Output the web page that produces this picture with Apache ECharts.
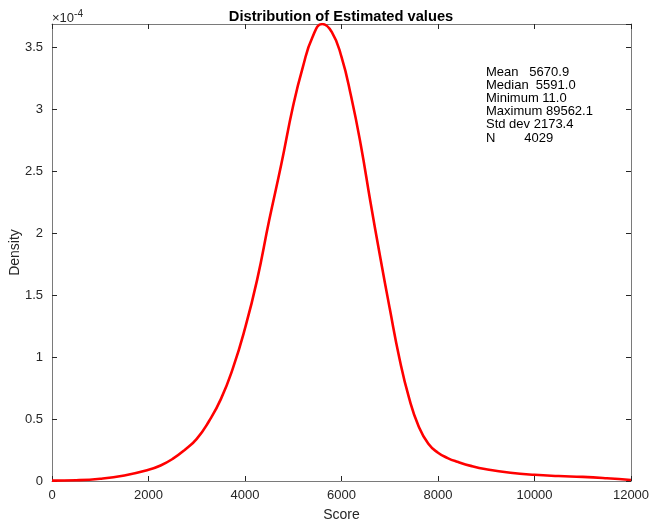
<!DOCTYPE html>
<html>
<head>
<meta charset="utf-8">
<script src="https://cdn.jsdelivr.net/npm/echarts@6/dist/echarts.min.js"></script>
<style>
  html, body { margin: 0; padding: 0; background: #fff; }
  #chart { width: 651px; height: 522px; }
</style>
</head>
<body>
<div id="chart"></div>
<script>
// Kernel density estimate of the scores (density given in units of 1e-4)
const score = [0, 500, 1000, 1500, 2000, 2250, 2500, 2750, 3000, 3250, 3500, 3750, 4000, 4250, 4500, 4750,
  5000, 5200, 5400, 5600, 5800, 6000, 6200, 6400, 6600, 6800, 7000, 7200, 7400, 7600, 7800,
  8000, 8200, 8400, 8700, 9000, 9500, 10000, 10500, 11000, 11500, 12000];
const density = [0.003, 0.006, 0.018, 0.045, 0.09, 0.125, 0.178, 0.25, 0.34, 0.48, 0.66, 0.91, 1.23, 1.62, 2.10, 2.55,
  3.03, 3.34, 3.58, 3.685, 3.62, 3.42, 3.10, 2.71, 2.25, 1.81, 1.39, 0.99, 0.67, 0.44, 0.30,
  0.228, 0.185, 0.155, 0.12, 0.095, 0.067, 0.05, 0.04, 0.033, 0.022, 0.008];
const densityScaleLabel = '-4';

// Summary statistics shown inside the plot
const statNames = ['Mean', 'Median', 'Minimum', 'Maximum', 'Std dev', 'N'];
const statValues = ['5670.9', '5591.0', '11.0', '89562.1', '2173.4', '4029'];
const statGaps = ['   ', '  ', ' ', ' ', ' ', '        '];

const xMin = 0, xMax = 12000, xStep = 2000;
const yMin = 0, yMax = 3.685, yStep = 0.5;

const FONT = '"Liberation Sans", Arial, Helvetica, sans-serif';
const axisGrey = '#7a7a7a';
const textDark = '#262626';

const chart = echarts.init(document.getElementById('chart'), null, { renderer: 'canvas' });

const statText = statNames.map((n, i) => n + statGaps[i] + statValues[i]).join('\n');

function xAxisCfg(pos, showLabels) {
  return {
    type: 'value', position: pos, min: xMin, max: xMax, interval: xStep,
    axisLine: { show: true, onZero: false, lineStyle: { color: axisGrey, width: 1 } },
    axisTick: { show: true, inside: true, length: 5, lineStyle: { color: textDark } },
    axisLabel: {
      show: showLabels, color: textDark, fontSize: 13, fontFamily: FONT, margin: 8,
      formatter: v => String(v)
    },
    splitLine: { show: false },
    name: showLabels ? 'Score' : '', nameLocation: 'middle', nameGap: 27,
    nameMoveOverlap: false,
    nameTextStyle: { color: textDark, fontSize: 14, fontFamily: FONT }
  };
}
function yAxisCfg(pos, showLabels) {
  return {
    type: 'value', position: pos, min: yMin, max: yMax, interval: yStep,
    axisLine: { show: true, onZero: false, lineStyle: { color: axisGrey, width: 1 } },
    axisTick: { show: true, inside: true, length: 5, lineStyle: { color: textDark } },
    axisLabel: {
      show: showLabels, color: textDark, fontSize: 13, fontFamily: FONT, margin: 9,
      showMaxLabel: false,
      formatter: v => (v > 3.6 ? '' : String(+v.toFixed(2)))
    },
    splitLine: { show: false },
    name: showLabels ? 'Density' : '', nameLocation: 'middle', nameGap: 30,
    nameMoveOverlap: false,
    nameTextStyle: { color: textDark, fontSize: 14, fontFamily: FONT }
  };
}

chart.setOption({
  animation: false,
  backgroundColor: '#fff',
  title: {
    text: 'Distribution of Estimated values',
    left: 336, top: 4, textAlign: 'center',
    textStyle: { fontSize: 14.7, fontWeight: 'bold', color: '#000', fontFamily: FONT }
  },
  grid: { left: 52, right: 20, top: 24, bottom: 41, containLabel: false, outerBoundsMode: 'none' },
  xAxis: [xAxisCfg('bottom', true), xAxisCfg('top', false)],
  yAxis: [yAxisCfg('left', true), yAxisCfg('right', false)],
  graphic: [
    {
      type: 'text', left: 52, top: 9,
      style: {
        text: '{b|×10}{s|' + densityScaleLabel + '}',
        rich: {
          b: { fontSize: 13, fontFamily: FONT, fill: textDark, verticalAlign: 'bottom' },
          s: { fontSize: 10, fontFamily: FONT, fill: textDark, verticalAlign: 'top', padding: [0, 0, 6, 0] }
        }
      }
    },
    {
      type: 'text', left: 486, top: 65.5,
      style: {
        text: statText, fontSize: 13, fontFamily: FONT, fill: '#000', lineHeight: 13.2
      }
    }
  ],
  series: [{
    type: 'line',
    xAxisIndex: 0, yAxisIndex: 0,
    data: score.map((s, i) => [s, density[i]]),
    smooth: 0.5,
    showSymbol: false,
    clip: true,
    lineStyle: { color: '#ff0000', width: 2.6 }
  }]
});
</script>
</body>
</html>
